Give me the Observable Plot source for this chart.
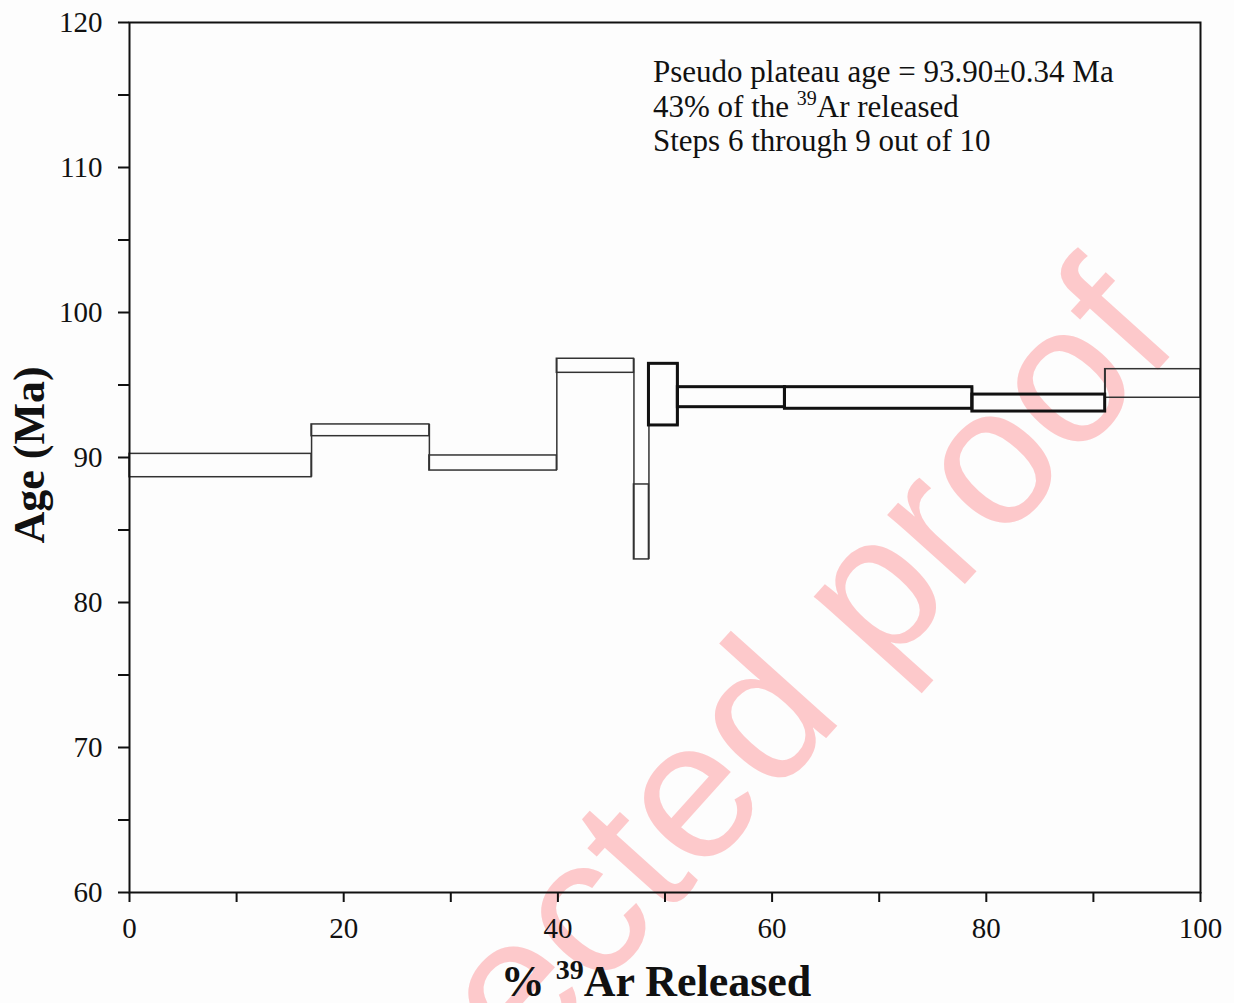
<!DOCTYPE html>
<html><head><meta charset="utf-8">
<script src="https://cdn.jsdelivr.net/npm/d3@7"></script>
<script src="https://cdn.jsdelivr.net/npm/@observablehq/plot@0.6"></script>
<style>
html,body{margin:0;padding:0;background:#fdfdfd;overflow:hidden;}
#chart{width:1234px;height:1003px;}
</style></head><body><div id="chart"></div>
<script>
// cumulative % 39Ar released at step boundaries
const stepBounds = [0, 17.0, 28.0, 39.9, 47.1, 48.5, 51.2, 61.2, 78.7, 91.1, 100];
// apparent age error box (Ma)
const ageLow  = [88.64, 91.47, 89.10, 95.84, 82.97, 92.21, 93.47, 93.36, 93.17, 94.12];
const ageHigh = [90.25, 92.28, 90.14, 96.81, 88.14, 96.46, 94.85, 94.85, 94.34, 96.09];
const plateauSteps = [6, 7, 8, 9];
const xTicks = d3.range(0, 101, 10);
const xTickLabels = [0, 20, 40, 60, 80, 100];
const yTicks = d3.range(60, 121, 5);
const yTickLabels = [60, 70, 80, 90, 100, 110, 120];
const annotationLines = [
  ["Pseudo plateau age = 93.90\u00b10.34 Ma"],
  ["43% of the ", "39", "Ar released"],
  ["Steps 6 through 9 out of 10"]
];
const xLabel = ["% ", "39", "Ar Released"];
const yLabel = "Age (Ma)";
const watermark = "Uncorrected proof";

const steps = ageLow.map((lo, i) => ({
  step: i + 1, x1: stepBounds[i], x2: stepBounds[i + 1], lo, hi: ageHigh[i],
  plateau: plateauSteps.includes(i + 1)
}));
const connectors = steps.slice(0, -1).map((s, i) => {
  const n = steps[i + 1];
  return {x: s.x2, y1: Math.min(s.lo, n.lo), y2: Math.max(s.hi, n.hi)};
});

const serif = "'Liberation Serif', 'Times New Roman', serif";
const plot = Plot.plot({
  width: 1234, height: 1003,
  marginLeft: 129, marginRight: 34, marginTop: 22, marginBottom: 111,
  x: {domain: [0, 100]},
  y: {domain: [60, 120]},
  style: {fontFamily: serif, fontSize: "29px", color: "#111", background: "transparent", overflow: "visible"},
  marks: [
    Plot.rect(steps.filter(d => !d.plateau), {x1: "x1", x2: "x2", y1: "lo", y2: "hi", fill: "none", stroke: "#333", strokeWidth: 1.5}),
    Plot.ruleX(connectors, {x: "x", y1: "y1", y2: "y2", stroke: "#333", strokeWidth: 1.5}),
    Plot.rect(steps.filter(d => d.plateau), {x1: "x1", x2: "x2", y1: "lo", y2: "hi", fill: "none", stroke: "#111", strokeWidth: 3}),
    Plot.axisY({ticks: yTicks, tickFormat: d => yTickLabels.includes(d) ? String(d) : "", tickSize: 11, tickPadding: 16, label: null, strokeWidth: 2, fill: "#111"}),
    Plot.axisX({ticks: xTicks, tickFormat: d => xTickLabels.includes(d) ? String(d) : "", tickSize: 10, tickPadding: 15, label: null, strokeWidth: 2, fill: "#111"}),
    Plot.frame({stroke: "#111", strokeWidth: 2})
  ]
});
document.getElementById("chart").appendChild(plot);

const svg = d3.select(plot);
// watermark beneath everything
svg.insert("text", ":first-child")
  .attr("transform", "translate(1183,342) rotate(-48)")
  .attr("text-anchor", "end")
  .attr("font-family", "'Liberation Sans', Arial, sans-serif")
  .attr("font-size", 197)
  .attr("fill", "#fdc9cb")
  .text(watermark);

// annotation
const ann = svg.append("g").attr("font-family", serif).attr("font-size", 31)
  .attr("fill", "#111").attr("text-anchor", "start");
annotationLines.forEach((parts, i) => {
  const t = ann.append("text").attr("x", 653).attr("y", 82 + i * 34.5);
  if (parts.length === 1) t.text(parts[0]);
  else {
    t.append("tspan").text(parts[0]);
    t.append("tspan").attr("font-size", 20).attr("dy", -12).text(parts[1]);
    t.append("tspan").attr("dy", 12).text(parts[2]);
  }
});

// axis labels
const xl = svg.append("text").attr("x", 656).attr("y", 996).attr("text-anchor", "middle")
  .attr("font-family", serif).attr("font-weight", "bold").attr("font-size", 44).attr("fill", "#111");
xl.append("tspan").text(xLabel[0]);
xl.append("tspan").attr("font-size", 28).attr("dy", -17).text(xLabel[1]);
xl.append("tspan").attr("dy", 17).text(xLabel[2]);

svg.append("text").attr("transform", "translate(44,455) rotate(-90)").attr("text-anchor", "middle")
  .attr("font-family", serif).attr("font-weight", "bold").attr("font-size", 44).attr("fill", "#111")
  .text(yLabel);
</script></body></html>
